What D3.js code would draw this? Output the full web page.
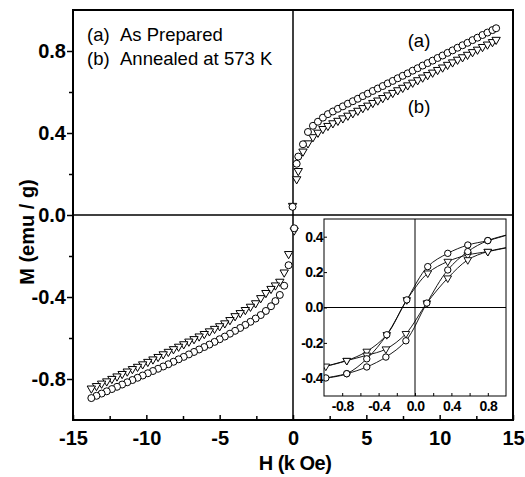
<!DOCTYPE html>
<html>
<head>
<meta charset="utf-8">
<script src="https://cdn.jsdelivr.net/npm/d3@7/dist/d3.min.js"></script>
<style>
  html, body { margin: 0; padding: 0; background: #fff; }
  svg { display: block; }
  text { font-family: "Liberation Sans", Arial, Helvetica, sans-serif; fill: #000; }
</style>
</head>
<body>
<svg id="chart" width="525" height="477"></svg>
<script>
// Magnetisation M (emu/g) versus applied field H (kOe)
// (a) as prepared -> circles, (b) annealed at 573 K -> down triangles

// Positive-field branch
const fieldPos = [0.25, 0.36, 0.68, 1.02, 1.36, 1.70, 2.04, 2.38, 2.72, 3.06, 3.40, 3.74, 4.08, 4.42,
  4.76, 5.10, 5.44, 5.78, 6.12, 6.46, 6.80, 7.14, 7.48, 7.82, 8.16, 8.50, 8.84, 9.18, 9.52, 9.86,
  10.20, 10.54, 10.88, 11.22, 11.56, 11.90, 12.24, 12.58, 12.92, 13.26, 13.60, 13.85];
const momentPosA = [0.25, 0.285, 0.345, 0.405, 0.435, 0.455, 0.475, 0.492, 0.505, 0.518, 0.530,
  0.543, 0.555, 0.567, 0.580, 0.592, 0.605, 0.617, 0.629, 0.642, 0.654, 0.667, 0.679, 0.691, 0.704,
  0.716, 0.729, 0.741, 0.753, 0.766, 0.778, 0.791, 0.803, 0.816, 0.828, 0.840, 0.853, 0.865, 0.878,
  0.890, 0.902, 0.911];
const momentPosB = [0.175, 0.215, 0.31, 0.35, 0.38, 0.402, 0.42, 0.435, 0.448, 0.460, 0.472, 0.485,
  0.497, 0.509, 0.522, 0.534, 0.547, 0.559, 0.571, 0.584, 0.596, 0.609, 0.621, 0.633, 0.646, 0.658,
  0.671, 0.683, 0.695, 0.708, 0.720, 0.733, 0.745, 0.758, 0.770, 0.782, 0.795, 0.807, 0.820, 0.832,
  0.844, 0.855];

// Negative-field branch
const fieldNeg = [-0.3, -0.6, -0.9, -1.2, -1.5, -1.85, -2.2, -2.55, -2.9, -3.25, -3.6, -3.95, -4.3,
  -4.65, -5.0, -5.35, -5.7, -6.05, -6.4, -6.75, -7.1, -7.45, -7.8, -8.15, -8.5, -8.85, -9.2, -9.55,
  -9.9, -10.25, -10.6, -10.95, -11.3, -11.65, -12.0, -12.35, -12.7, -13.05, -13.4, -13.75];
const momentNegA = [-0.245, -0.345, -0.39, -0.42, -0.445, -0.468, -0.488, -0.505, -0.521, -0.536,
  -0.551, -0.565, -0.579, -0.593, -0.606, -0.619, -0.632, -0.644, -0.656, -0.668, -0.680, -0.692,
  -0.704, -0.716, -0.728, -0.739, -0.750, -0.761, -0.772, -0.783, -0.794, -0.805, -0.816, -0.827,
  -0.838, -0.849, -0.860, -0.871, -0.882, -0.893];
const momentNegB = [-0.19, -0.28, -0.325, -0.343, -0.36, -0.38, -0.405, -0.43, -0.447, -0.463,
  -0.478, -0.493, -0.512, -0.528, -0.542, -0.555, -0.567, -0.580, -0.592, -0.605, -0.617, -0.630,
  -0.642, -0.654, -0.667, -0.679, -0.692, -0.704, -0.716, -0.728, -0.740, -0.751, -0.763, -0.775,
  -0.787, -0.799, -0.811, -0.822, -0.834, -0.846];

// Points passing through zero field
const fieldZero = [-0.03, 0.08];
const momentZeroA = [0.04, -0.065];
const momentZeroB = [0.045, -0.075];

// Low-field hysteresis loops (inset), H in kOe
const loopField = [1.05, 0.80, 0.58, 0.36, 0.14, -0.09, -0.31, -0.53, -0.75, -0.98,
  -0.75, -0.53, -0.32, -0.10, 0.13, 0.36, 0.58, 0.80, 1.05];
const loopA = [0.415, 0.378, 0.353, 0.306, 0.231, 0.043, -0.154, -0.29, -0.374, -0.398,
  -0.374, -0.336, -0.28, -0.188, 0.025, 0.212, 0.316, 0.378, 0.415];
const loopB = [0.342, 0.316, 0.297, 0.26, 0.194, 0.043, -0.154, -0.248, -0.30, -0.332,
  -0.30, -0.27, -0.235, -0.148, 0.025, 0.166, 0.269, 0.316, 0.342];

// Axis ticks
const xMajor = [-15, -10, -5, 0, 5, 10, 15];
const xMinor = [-12.5, -7.5, -2.5, 2.5, 7.5, 12.5];
const yMajor = [-0.8, -0.4, 0.0, 0.4, 0.8];
const yMinor = [-0.6, -0.2, 0.2, 0.6];
const insetTicks = [-0.8, -0.6, -0.4, -0.2, 0.0, 0.2, 0.4, 0.6, 0.8];
const insetLabelled = [-0.8, -0.4, 0.0, 0.4, 0.8];
const insetYTicks = [-0.4, -0.2, 0.0, 0.2, 0.4];

const svg = d3.select("#chart");
const fmt = d => (d < 0 ? "-" : "") + Math.abs(d).toFixed(1);

// ---------- main panel ----------
const M = { left: 73, right: 513, top: 10, bottom: 420 };
const x = d3.scaleLinear().domain([-15, 15]).range([M.left, M.right]);
const y = d3.scaleLinear().domain([-1, 1]).range([M.bottom, M.top]);

// zero lines
svg.append("line").attr("x1", x(0)).attr("x2", x(0)).attr("y1", M.top).attr("y2", M.bottom)
  .attr("stroke", "#000").attr("stroke-width", 1.5);
svg.append("line").attr("x1", M.left).attr("x2", M.right).attr("y1", y(0)).attr("y2", y(0))
  .attr("stroke", "#000").attr("stroke-width", 1.5);

// axes
const yAxis = svg.append("g").attr("transform", `translate(${M.left},0)`)
  .call(d3.axisLeft(y).tickValues(yMajor).tickFormat(fmt).tickSize(6).tickPadding(1));
const yAxisMinor = svg.append("g").attr("transform", `translate(${M.left},0)`)
  .call(d3.axisLeft(y).tickValues(yMinor).tickFormat("").tickSize(4));
const xAxis = svg.append("g").attr("transform", `translate(0,${M.bottom})`)
  .call(d3.axisBottom(x).tickValues(xMajor).tickFormat(d => String(d)).tickSize(-5).tickPadding(11));
const xAxisMinor = svg.append("g").attr("transform", `translate(0,${M.bottom})`)
  .call(d3.axisBottom(x).tickValues(xMinor).tickFormat("").tickSize(-4));
[yAxis, yAxisMinor, xAxis, xAxisMinor].forEach(g => {
  g.select(".domain").remove();
  g.selectAll(".tick line").attr("stroke", "#000").attr("stroke-width", 1.5);
  g.selectAll(".tick text").attr("font-size", 20).attr("font-weight", "bold")
    .attr("font-family", "'Liberation Sans', Arial, sans-serif").attr("fill", "#000");
});

// frame
svg.append("rect").attr("x", M.left).attr("y", M.top)
  .attr("width", M.right - M.left).attr("height", M.bottom - M.top)
  .attr("fill", "none").attr("stroke", "#000").attr("stroke-width", 2);

// axis titles
svg.append("text").attr("transform", "translate(34,232) rotate(-90)")
  .attr("text-anchor", "middle").attr("font-size", 20).attr("font-weight", "bold")
  .text("M (emu / g)");
svg.append("text").attr("x", 295).attr("y", 470)
  .attr("text-anchor", "middle").attr("font-size", 20).attr("font-weight", "bold")
  .attr("letter-spacing", -0.5)
  .text("H (k Oe)");

// markers
const triPath = d3.symbol().type(d3.symbolTriangle).size(30)();
function drawSeries(g, sx, sy, fields, moments, kind, r) {
  const pts = fields.map((f, i) => [f, moments[i]]);
  if (kind === "circle") {
    g.selectAll(null).data(pts).join("circle")
      .attr("cx", d => sx(d[0])).attr("cy", d => sy(d[1])).attr("r", r)
      .attr("fill", "#fff").attr("stroke", "#000").attr("stroke-width", 1);
  } else {
    g.selectAll(null).data(pts).join("path")
      .attr("d", triPath)
      .attr("transform", d => `translate(${sx(d[0])},${sy(d[1])}) rotate(180) scale(${r / 3.5})`)
      .attr("fill", "#fff").attr("stroke", "#000").attr("stroke-width", 1);
  }
}
const mainMarks = svg.append("g");
drawSeries(mainMarks, x, y, fieldNeg, momentNegB, "tri", 3.5);
drawSeries(mainMarks, x, y, fieldNeg, momentNegA, "circle", 3.5);
drawSeries(mainMarks, x, y, fieldPos, momentPosB, "tri", 3.5);
drawSeries(mainMarks, x, y, fieldPos, momentPosA, "circle", 3.5);
drawSeries(mainMarks, x, y, fieldZero, momentZeroB, "tri", 3.5);
drawSeries(mainMarks, x, y, fieldZero, momentZeroA, "circle", 3.5);

// legend and curve labels
const legend = svg.append("g").attr("font-size", 18.5);
legend.append("text").attr("x", 87).attr("y", 40.5).text("(a)");
legend.append("text").attr("x", 120).attr("y", 40.5).text("As Prepared");
legend.append("text").attr("x", 87).attr("y", 65).text("(b)");
legend.append("text").attr("x", 120).attr("y", 65).text("Annealed at 573 K");
svg.append("text").attr("x", 419).attr("y", 47).attr("text-anchor", "middle").attr("font-size", 18.5).text("(a)");
svg.append("text").attr("x", 419).attr("y", 113).attr("text-anchor", "middle").attr("font-size", 18.5).text("(b)");

// ---------- inset ----------
const I = { left: 324, right: 506, top: 219, bottom: 396 };
const ix = d3.scaleLinear().domain([-1, 1]).range([I.left, I.right]);
const iy = d3.scaleLinear().domain([-0.5, 0.5]).range([I.bottom, I.top]);

svg.append("rect").attr("x", I.left).attr("y", I.top)
  .attr("width", I.right - I.left).attr("height", I.bottom - I.top).attr("fill", "#fff");
svg.append("clipPath").attr("id", "insetClip").append("rect")
  .attr("x", I.left).attr("y", I.top).attr("width", I.right - I.left).attr("height", I.bottom - I.top);

svg.append("line").attr("x1", ix(0)).attr("x2", ix(0)).attr("y1", I.top).attr("y2", I.bottom)
  .attr("stroke", "#000").attr("stroke-width", 1);
svg.append("line").attr("x1", I.left).attr("x2", I.right).attr("y1", iy(0)).attr("y2", iy(0))
  .attr("stroke", "#000").attr("stroke-width", 1);

const iyAxis = svg.append("g").attr("transform", `translate(${I.left},0)`)
  .call(d3.axisLeft(iy).tickValues(insetYTicks).tickFormat(fmt).tickSize(-3).tickPadding(1));
const ixAxis = svg.append("g").attr("transform", `translate(0,${I.bottom})`)
  .call(d3.axisBottom(ix).tickValues(insetTicks)
    .tickFormat(d => insetLabelled.some(v => Math.abs(v - d) < 1e-9) ? fmt(d) : "")
    .tickSize(-3).tickPadding(5));
[iyAxis, ixAxis].forEach(g => {
  g.select(".domain").remove();
  g.selectAll(".tick line").attr("stroke", "#000").attr("stroke-width", 1);
  g.selectAll(".tick text").attr("font-size", 14).attr("font-weight", "bold")
    .attr("letter-spacing", -0.6)
    .attr("font-family", "'Liberation Sans', Arial, sans-serif").attr("fill", "#000");
});

const insetPlot = svg.append("g").attr("clip-path", "url(#insetClip)");
const loopLine = d3.line().x(d => ix(d[0])).y(d => iy(d[1])).curve(d3.curveCatmullRom.alpha(0.5));
[loopB, loopA].forEach(vals => {
  insetPlot.append("path").datum(loopField.map((f, i) => [f, vals[i]]))
    .attr("d", loopLine).attr("fill", "none").attr("stroke", "#000").attr("stroke-width", 0.9);
});
drawSeries(insetPlot, ix, iy, loopField, loopB, "tri", 3.2);
drawSeries(insetPlot, ix, iy, loopField, loopA, "circle", 3.2);

svg.append("rect").attr("x", I.left).attr("y", I.top)
  .attr("width", I.right - I.left).attr("height", I.bottom - I.top)
  .attr("fill", "none").attr("stroke", "#000").attr("stroke-width", 1);
</script>
</body>
</html>
